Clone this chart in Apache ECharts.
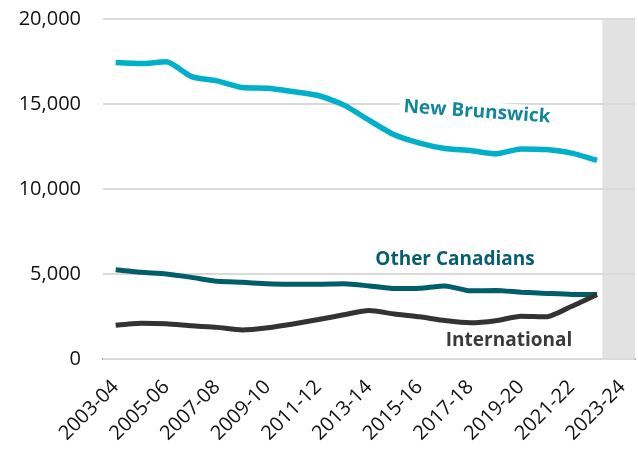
<!DOCTYPE html>
<html>
<head>
<meta charset="utf-8">
<script src="https://cdn.jsdelivr.net/npm/echarts@6/dist/echarts.min.js"></script>
<style>
  html, body { margin: 0; padding: 0; background: #fff; }
  #chart { width: 638px; height: 451px; }
</style>
</head>
<body>
<div id="chart"></div>
<script>
// 年度
const years = [
  "2003-04", "2004-05", "2005-06", "2006-07", "2007-08", "2008-09", "2009-10",
  "2010-11", "2011-12", "2012-13", "2013-14", "2014-15", "2015-16", "2016-17",
  "2017-18", "2018-19", "2019-20", "2020-21", "2021-22", "2022-23", "2023-24"
];
// 三条线的数据 (2023-24 没有数据)
const newBrunswick = [17440, 17380, 17480, 16610, 16360, 15970, 15930, 15730, 15500, 14950,
  14050, 13190, 12700, 12380, 12260, 12070, 12360, 12320, 12110, 11680, null];
const otherCanadians = [5250, 5100, 5000, 4800, 4570, 4510, 4430, 4400, 4390, 4420,
  4300, 4140, 4160, 4300, 4010, 4030, 3930, 3860, 3800, 3800, null];
const international = [1980, 2100, 2070, 1950, 1860, 1710, 1840, 2060, 2320, 2600,
  2850, 2650, 2480, 2260, 2130, 2250, 2520, 2480, 3100, 3800, null];
// 灰色阴影 (最后一年)
const shaded = years.map((y, i) => (i === years.length - 1 ? 20000 : null));
const yTicks = { min: 0, max: 20000, interval: 5000 };

const chart = echarts.init(document.getElementById("chart"));
const labelFont = "'Open Sans', 'DejaVu Sans', sans-serif";

chart.setOption({
  animation: false,
  grid: { left: 103, right: 3, top: 19, bottom: 92, containLabel: false },
  xAxis: {
    type: "category",
    data: years,
    boundaryGap: true,
    axisLine: { lineStyle: { color: "#8f8f8f", width: 2 } },
    axisTick: { show: false },
    axisLabel: {
      interval: 1,
      rotate: 45,
      color: "#111",
      fontSize: 20,
      fontFamily: labelFont,
      margin: 25,
    },
  },
  yAxis: {
    type: "value",
    min: yTicks.min,
    max: yTicks.max,
    interval: yTicks.interval,
    z: 1,
    axisLine: { show: false },
    axisTick: { show: false },
    splitLine: { lineStyle: { color: "#dadada", width: 2 } },
    axisLabel: {
      color: "#111",
      fontSize: 20,
      fontFamily: labelFont,
      margin: 22,
      formatter: (v) => v.toLocaleString("en-US"),
    },
  },
  series: [
    {
      name: "shade",
      type: "bar",
      data: shaded,
      barWidth: 40,
      clip: true,
      z: 0,
      silent: true,
      itemStyle: { color: "#e2e2e2" },
    },
    {
      name: "New Brunswick",
      type: "line",
      data: newBrunswick,
      smooth: 0.2,
      symbol: "none",
      z: 3,
      lineStyle: { color: "#00b0cb", width: 5.5 },
    },
    {
      name: "Other Canadians",
      type: "line",
      data: otherCanadians,
      smooth: 0.2,
      symbol: "none",
      z: 3,
      lineStyle: { color: "#005e6a", width: 5 },
    },
    {
      name: "International",
      type: "line",
      data: international,
      smooth: 0.2,
      symbol: "none",
      z: 4,
      lineStyle: { color: "#333333", width: 5 },
    },
  ],
  // 线上的文字标签
  graphic: [
    {
      type: "text",
      x: 477, y: 112,
      rotation: -0.07,
      z: 10,
      style: {
        text: "New Brunswick",
        fill: "#13879a",
        font: "bold 19px " + labelFont,
        align: "center",
        verticalAlign: "middle",
        backgroundColor: "#fff",
        padding: [1, 4],
      },
    },
    {
      type: "text",
      x: 455, y: 260,
      z: 10,
      style: {
        text: "Other Canadians",
        fill: "#075f6b",
        font: "bold 19px " + labelFont,
        align: "center",
        verticalAlign: "middle",
      },
    },
    {
      type: "text",
      x: 509, y: 341,
      z: 10,
      style: {
        text: "International",
        fill: "#3a3a3a",
        font: "bold 19px " + labelFont,
        align: "center",
        verticalAlign: "middle",
      },
    },
  ],
});
</script>
</body>
</html>
